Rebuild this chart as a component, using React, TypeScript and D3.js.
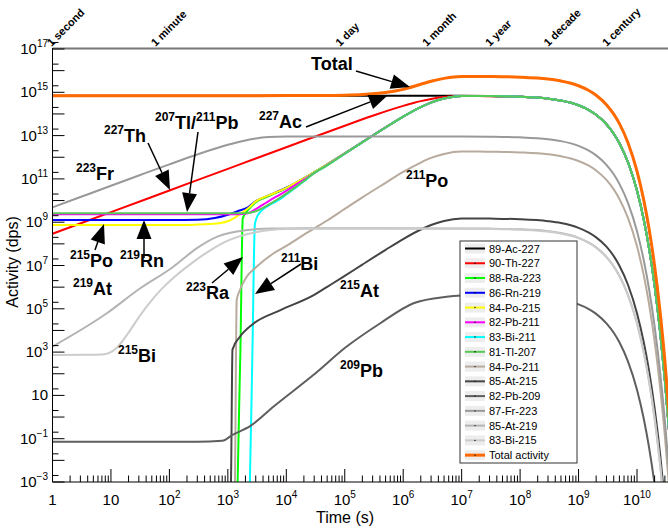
import React from "react";
import * as d3 from "d3";

type P = [number, number];

// ---------- data (time in s, activity in dps) ----------
const ac227: P[] = [[1,6.9e14],[1e6,6.9e14],[1e7,6.87e14],[3e7,6.69e14],[1e8,6.24e14],[3e8,5.1e14],[5e8,4.17e14],[1e9,2.52e14],[1.5e9,1.52e14],[2e9,9.2e13],[3e9,3.34e13],[4e9,1.22e13],[5e9,4.45e12],[7e9,5.9e11],[1e10,2.88e10],[1.3e10,1.38e9],[1.6e10,6.7e7],[2e10,1.2e6],[2.5e10,7.6e3],[3e10,49],[3.5e10,0.32],[4e10,2.1e-3]];
const th227: P[] = [[1,2.92e8],[10,2.92e9],[100,2.92e10],[1e3,2.92e11],[1e4,2.91e12],[1e5,2.86e13],[3e5,8.2e13],[5e5,1.31e14],[7e5,1.76e14],[1e6,2.37e14],[1.5e6,3.23e14],[2e6,3.92e14],[3e6,4.93e14],[5e6,6.0e14],[1e7,6.68e14],[2e7,6.7e14],[3e7,6.62e14],[1e8,6.18e14],[3e8,5.05e14],[5e8,4.13e14],[1e9,2.5e14],[1.5e9,1.5e14],[2e9,9.1e13],[3e9,3.3e13],[4e9,1.2e13],[5e9,4.4e12],[7e9,5.8e11],[1e10,2.85e10],[1.3e10,1.36e9],[1.6e10,6.6e7],[2e10,1.19e6],[2.5e10,7.5e3],[3e10,48],[3.5e10,0.31],[4e10,2e-3]];
const ra223: P[] = [[1.46e3,3e-4],[1.47e3,1e-3],[1.64e3,1.2e3],[1.8e3,1.5e9],[2.2e3,3.6e9],[3e3,8.3e9],[5e3,1.6e10],[1e4,3.8e10],[2e4,1.07e11],[5e4,4.7e11],[1e5,1.5e12],[2e5,5.0e12],[5e5,2.4e13],[1e6,7.6e13],[2e6,2.08e14],[3e6,3.38e14],[5e6,5.17e14],[1e7,6.7e14],[2e7,6.76e14],[3e7,6.69e14],[1e8,6.24e14],[3e8,5.1e14],[5e8,4.17e14],[1e9,2.52e14],[1.5e9,1.52e14],[2e9,9.2e13],[3e9,3.34e13],[4e9,1.22e13],[5e9,4.45e12],[7e9,5.9e11],[1e10,2.88e10],[1.3e10,1.38e9],[1.6e10,6.7e7],[2e10,1.2e6],[2.5e10,7.6e3],[3e10,49],[3.5e10,0.32],[4e10,2.1e-3]];
const rn219: P[] = [[1,1.26e9],[100,1.26e9],[300,1.3e9],[600,1.55e9],[1e3,2.2e9],[1.5e3,3.3e9],[2.2e3,4.9e9],[3e3,9.4e9],[5e3,1.72e10],[1e4,3.9e10],[2e4,1.07e11],[5e4,4.7e11],[1e5,1.5e12],[2e5,5.0e12],[5e5,2.4e13],[1e6,7.6e13],[2e6,2.08e14],[3e6,3.38e14],[5e6,5.17e14],[1e7,6.7e14],[2e7,6.76e14],[3e7,6.69e14],[1e8,6.24e14],[3e8,5.1e14],[5e8,4.17e14],[1e9,2.52e14],[1.5e9,1.52e14],[2e9,9.2e13],[3e9,3.34e13],[4e9,1.22e13],[5e9,4.45e12],[7e9,5.9e11],[1e10,2.88e10],[1.3e10,1.38e9],[1.6e10,6.7e7],[2e10,1.2e6],[2.5e10,7.6e3],[3e10,49],[3.5e10,0.32],[4e10,2.1e-3]];
const po215: P[] = [[1,7.4e8],[200,7.4e8],[400,8.0e8],[700,9e8],[1e3,1.1e9],[1.3e3,1.6e9],[1.7e3,2.6e9],[2.2e3,4.3e9],[3e3,9.2e9],[5e3,1.72e10],[1e4,3.85e10],[2e4,1.07e11],[5e4,4.7e11],[1e5,1.5e12],[2e5,5.0e12],[5e5,2.4e13],[1e6,7.6e13],[2e6,2.08e14],[3e6,3.38e14],[5e6,5.17e14],[1e7,6.7e14],[2e7,6.76e14],[3e7,6.69e14],[1e8,6.24e14],[3e8,5.1e14],[5e8,4.17e14],[1e9,2.52e14],[1.5e9,1.52e14],[2e9,9.2e13],[3e9,3.34e13],[4e9,1.22e13],[5e9,4.45e12],[7e9,5.9e11],[1e10,2.88e10],[1.3e10,1.38e9],[1.6e10,6.7e7],[2e10,1.2e6],[2.5e10,7.6e3],[3e10,49],[3.5e10,0.32],[4e10,2.1e-3]];
const pb211: P[] = [[1,2.35e9],[1.5e3,2.35e9],[2e3,2.45e9],[2.5e3,3.0e9],[3e3,4.0e9],[4e3,6.5e9],[5e3,9.5e9],[7.8e3,1.9e10],[1e4,2.8e10],[2e4,9.4e10],[5e4,4.4e11],[1e5,1.47e12],[2e5,4.95e12],[5e5,2.38e13],[1e6,7.55e13],[2e6,2.07e14],[3e6,3.37e14],[5e6,5.16e14],[1e7,6.7e14],[2e7,6.76e14],[3e7,6.69e14],[1e8,6.24e14],[3e8,5.1e14],[5e8,4.17e14],[1e9,2.52e14],[1.5e9,1.52e14],[2e9,9.2e13],[3e9,3.34e13],[4e9,1.22e13],[5e9,4.45e12],[7e9,5.9e11],[1e10,2.88e10],[1.3e10,1.38e9],[1.6e10,6.7e7],[2e10,1.2e6],[2.5e10,7.6e3],[3e10,49],[3.5e10,0.32],[4e10,2.1e-3]];
const bi211: P[] = [[2.34e3,3e-4],[2.38e3,1e-3],[2.63e3,9e2],[2.9e3,8e8],[3.2e3,1.9e9],[3.6e3,3e9],[4.5e3,5e9],[6e3,7.7e9],[8e3,1.22e10],[1e4,1.9e10],[1.5e4,4.3e10],[2e4,7.8e10],[2.86e4,1.68e11],[5e4,4.2e11],[1e5,1.45e12],[2e5,4.9e12],[5e5,2.37e13],[1e6,7.5e13],[2e6,2.06e14],[3e6,3.35e14],[5e6,5.14e14],[1e7,6.68e14],[2e7,6.76e14],[3e7,6.69e14],[1e8,6.24e14],[3e8,5.1e14],[5e8,4.17e14],[1e9,2.52e14],[1.5e9,1.52e14],[2e9,9.2e13],[3e9,3.34e13],[4e9,1.22e13],[5e9,4.45e12],[7e9,5.9e11],[1e10,2.88e10],[1.3e10,1.38e9],[1.6e10,6.7e7],[2e10,1.2e6],[2.5e10,7.6e3],[3e10,49],[3.5e10,0.32],[4e10,2.1e-3]];
const tl207: P[] = [[1,2.6e9],[2e3,2.6e9],[3e3,3.2e9],[4e3,4.6e9],[5e3,6.5e9],[7.8e3,1.35e10],[1e4,2.1e10],[1.5e4,4.5e10],[2e4,8e10],[2.86e4,1.7e11],[5e4,4.2e11],[1e5,1.45e12],[2e5,4.9e12],[5e5,2.37e13],[1e6,7.5e13],[2e6,2.06e14],[3e6,3.35e14],[5e6,5.14e14],[1e7,6.68e14],[2e7,6.76e14],[3e7,6.69e14],[1e8,6.24e14],[3e8,5.1e14],[5e8,4.17e14],[1e9,2.52e14],[1.5e9,1.52e14],[2e9,9.2e13],[3e9,3.34e13],[4e9,1.22e13],[5e9,4.45e12],[7e9,5.9e11],[1e10,2.88e10],[1.3e10,1.38e9],[1.6e10,6.7e7],[2e10,1.2e6],[2.5e10,7.6e3],[3e10,49],[3.5e10,0.32],[4e10,2.1e-3]];
const po211: P[] = [[1.3e3,3e-4],[1.325e3,1e-3],[1.37e3,1e2],[1.417e3,2.6e5],[1.61e3,7.4e5],[2.1e3,3e6],[3e3,8e6],[6e3,3.6e7],[1e4,8e7],[2.2e4,3.1e8],[5e4,1.2e9],[1e5,4.1e9],[2e5,1.4e10],[5e5,6.6e10],[1e6,2.1e11],[2e6,5.7e11],[3e6,9.3e11],[5e6,1.42e12],[1e7,1.82e12],[2e7,1.83e12],[3e7,1.8e12],[1e8,1.67e12],[3e8,1.37e12],[5e8,1.12e12],[1e9,6.75e11],[1.5e9,4.07e11],[2e9,2.46e11],[3e9,8.95e10],[4e9,3.27e10],[5e9,1.19e10],[7e9,1.57e9],[1e10,7.7e7],[1.3e10,3.7e6],[1.6e10,1.8e5],[2e10,3.2e3],[2.5e10,20],[3e10,0.13],[3.5e10,8.5e-4]];
const at215: P[] = [[1.1e3,3e-4],[1.13e3,1e-3],[1.2e3,1.3e3],[1.6e3,5e3],[2.7e3,2e4],[7.8e3,8.5e4],[3e4,4.4e5],[5e4,1.03e6],[1e5,3.3e6],[2e5,1.1e7],[5e5,5.3e7],[1e6,1.67e8],[2e6,4.6e8],[3e6,7.4e8],[5e6,1.14e9],[1e7,1.47e9],[2e7,1.49e9],[3e7,1.47e9],[1e8,1.37e9],[3e8,1.12e9],[5e8,9.2e8],[1e9,5.5e8],[1.5e9,3.3e8],[2e9,2.0e8],[3e9,7.4e7],[4e9,2.7e7],[5e9,9.8e6],[7e9,1.29e6],[1e10,6.3e4],[1.3e10,3.0e3],[1.6e10,147],[2e10,2.6],[2.5e10,1.7e-2],[3e10,1.1e-4]];
const pb209: P[] = [[1,0.072],[300,0.072],[800,0.08],[1.2e3,0.15],[2.4e3,0.38],[6e3,3.0],[2.9e4,87],[1.08e5,1.8e3],[4e5,2.1e4],[1.5e6,1.8e5],[5.5e6,3.6e5],[1e7,4.1e5],[2e7,4.3e5],[3e7,4.27e5],[1e8,3.98e5],[3e8,3.25e5],[5e8,2.66e5],[1e9,1.6e5],[1.5e9,9.7e4],[2e9,5.85e4],[3e9,2.13e4],[4e9,7.8e3],[5e9,2.84e3],[7e9,374],[1e10,18.3],[1.3e10,0.88],[1.6e10,0.043],[2e10,7.7e-4],[2.5e10,4.8e-6]];
const fr223: P[] = [[1,4.83e9],[3,1.45e10],[10,4.83e10],[30,1.44e11],[100,4.71e11],[300,1.34e12],[1e3,3.76e12],[2e3,5.98e12],[3e3,7.3e12],[5e3,8.53e12],[1e4,9.15e12],[3e4,9.2e12],[1e7,9.1e12],[3e7,8.92e12],[1e8,8.3e12],[3e8,6.8e12],[5e8,5.56e12],[1e9,3.36e12],[1.5e9,2.02e12],[2e9,1.22e12],[3e9,4.45e11],[4e9,1.63e11],[5e9,5.9e10],[7e9,7.8e9],[1e10,3.84e8],[1.3e10,1.84e7],[1.6e10,8.9e5],[2e10,1.6e4],[2.5e10,101],[3e10,0.65],[3.5e10,4.2e-3],[4e10,2.8e-5]];
const at219: P[] = [[1,1.8e3],[8.5,6.2e4],[30,8e5],[117,8.8e6],[300,6.5e7],[645,2.1e8],[2e3,4.3e8],[6e3,5.1e8],[2e4,5.2e8],[1e7,5.15e8],[3e7,5.05e8],[1e8,4.7e8],[3e8,3.84e8],[5e8,3.14e8],[1e9,1.9e8],[1.5e9,1.14e8],[2e9,6.9e7],[3e9,2.5e7],[4e9,9.2e6],[5e9,3.35e6],[7e9,4.4e5],[1e10,2.17e4],[1.3e10,1.04e3],[1.6e10,50],[2e10,0.9],[2.5e10,5.7e-3],[3e10,3.7e-5]];
const bi215: P[] = [[1,7.4e2],[4,7.5e2],[7,7.7e2],[12.6,1.6e3],[20,8e3],[31.6,5e4],[50,2.5e5],[79,1e6],[126,3.2e6],[251,1.4e7],[500,5e7],[1e3,1.4e8],[3.16e3,3.5e8],[1e4,4.8e8],[3e4,5e8],[1e7,4.95e8],[3e7,4.85e8],[1e8,4.5e8],[3e8,3.7e8],[5e8,3.0e8],[1e9,1.83e8],[1.5e9,1.1e8],[2e9,6.65e7],[3e9,2.42e7],[4e9,8.8e6],[5e9,3.2e6],[7e9,4.25e5],[1e10,2.1e4],[1.3e10,1.0e3],[1.6e10,48],[2e10,0.87],[2.5e10,5.5e-3],[3e10,3.5e-5]];
const total: P[] = [[1,6.9e14],[1e3,6.94e14],[1e4,7.03e14],[3e4,7.1e14],[1e5,7.37e14],[2e5,7.85e14],[5e5,9.75e14],[1e6,1.36e15],[2e6,2.34e15],[3e6,3.22e15],[5e6,4.4e15],[1e7,5.39e15],[2e7,5.41e15],[3e7,5.35e15],[1e8,4.99e15],[3e8,4.08e15],[5e8,3.33e15],[1e9,2.01e15],[1.5e9,1.21e15],[2e9,7.34e14],[3e9,2.67e14],[4e9,9.75e13],[5e9,3.56e13],[7e9,4.7e12],[1e10,2.3e11],[1.3e10,1.1e10],[1.6e10,5.35e8],[2e10,9.6e6],[2.5e10,6.1e4],[3e10,392],[3.5e10,2.5],[4e10,0.017]];

const seriesNames = ["89-Ac-227","90-Th-227","88-Ra-223","86-Rn-219","84-Po-215","82-Pb-211","83-Bi-211","81-Tl-207","84-Po-211","85-At-215","82-Pb-209","87-Fr-223","85-At-219","83-Bi-215","Total activity"];
const seriesData = [ac227, th227, ra223, rn219, po215, pb211, bi211, tl207, po211, at215, pb209, fr223, at219, bi215, total];
const seriesColors = ["#000000","#ff0000","#00ff00","#0000ff","#ffff00","#ff00ff","#00ffff","#55c855","#b8ab9e","#444444","#5e5e5e","#999999","#b4b4b4","#cccccc","#ff6a00"];

const xTickExps = [0,1,2,3,4,5,6,7,8,9,10];
const yTickExps = [17,15,13,11,9,7,5,3,1,-1,-3];
const timeLabels = ["1 second","1 minute","1 day","1 month","1 year","1 decade","1 century"];
const timeValues = [1, 60, 86400, 2.63e6, 3.156e7, 3.156e8, 3.156e9];

const annotations: { parts: [string, string][]; x: number; y: number }[] = [
  { parts: [["", "Total"]], x: 311, y: 70 },
  { parts: [["227", "Ac"]], x: 259, y: 128 },
  { parts: [["227", "Th"]], x: 104, y: 142 },
  { parts: [["207", "Tl/"], ["211", "Pb"]], x: 155, y: 129 },
  { parts: [["223", "Fr"]], x: 76, y: 180 },
  { parts: [["215", "Po"]], x: 70, y: 267 },
  { parts: [["219", "Rn"]], x: 120, y: 267 },
  { parts: [["219", "At"]], x: 73, y: 295 },
  { parts: [["215", "Bi"]], x: 118, y: 362 },
  { parts: [["223", "Ra"]], x: 186, y: 299 },
  { parts: [["211", "Bi"]], x: 281, y: 270 },
  { parts: [["215", "At"]], x: 340, y: 297 },
  { parts: [["209", "Pb"]], x: 340, y: 377 },
  { parts: [["211", "Po"]], x: 406, y: 187 },
];
const arrows: [number, number, number, number][] = [
  [356, 71, 410, 87],
  [306, 127, 388, 95],
  [148, 143, 170, 190],
  [198, 132, 187, 212],
  [95, 250, 104, 224],
  [144, 258, 144, 220],
  [212, 283, 243, 257],
  [301, 264, 255, 294],
];

const W = 668, H = 531;
const X0 = 52.5, DEC = 58.45;
const YT = 49, YB = 482;
const FONT = "Liberation Sans, Arial, Helvetica, sans-serif";

export default function App() {
  const x = d3.scaleLog().domain([1, 1e11]).range([X0, X0 + 11 * DEC]);
  const y = d3.scaleLog().domain([1e-3, 1e17]).range([YB, YT]);
  const line = d3
    .line<P>()
    .x((d) => x(d[0]))
    .y((d) => y(Math.max(d[1], 1e-8)))
    .curve(d3.curveMonotoneX);

  const minorX: number[] = [];
  for (let e = 0; e < 11; e++) for (let k = 2; k <= 9; k++) {
    const v = k * Math.pow(10, e);
    if (x(v) < W) minorX.push(v);
  }
  const yDecades = d3.range(-3, 18);

  const sup = (base: string, exp: string) => (
    <>
      {base}
      <tspan dy={-7} fontSize={10}>{exp}</tspan>
    </>
  );

  const legX = 460, legY = 241, legW = 117, legH = 222;
  const rowH = 14.76;

  return (
    <svg width={W} height={H} style={{ position: "absolute", left: 0, top: 0, background: "#fff" }} fontFamily={FONT}>
      <defs>
        <clipPath id="plot">
          <rect x={X0} y={YT} width={W - X0} height={YB - YT} />
        </clipPath>
      </defs>
      <rect x={0} y={0} width={W} height={H} fill="#fff" />

      {/* curves */}
      <g clipPath="url(#plot)">
        {seriesData.map((d, i) => (
          <path key={i} d={line(d) || ""} fill="none" stroke={seriesColors[i]}
            strokeWidth={i === 14 ? 3 : 2} strokeLinejoin="round" />
        ))}
      </g>

      {/* frame / axes */}
      <line x1={X0} x2={W} y1={YT - 0.5} y2={YT - 0.5} stroke="#777" strokeWidth={2} />
      <line x1={X0} x2={X0} y1={YT - 1} y2={YB} stroke="#000" strokeWidth={1} />
      <line x1={X0} x2={W} y1={YB} y2={YB} stroke="#000" strokeWidth={1} />

      {/* x ticks */}
      {xTickExps.map((e) => (
        <line key={"xt" + e} x1={x(Math.pow(10, e))} x2={x(Math.pow(10, e))} y1={YB} y2={YB - 13} stroke="#000" />
      ))}
      {minorX.map((v, i) => (
        <line key={"xm" + i} x1={x(v)} x2={x(v)} y1={YB} y2={YB - 6.5} stroke="#000" />
      ))}
      {xTickExps.map((e) => (
        <text key={"xl" + e} x={x(Math.pow(10, e))} y={505} fontSize={15} textAnchor="middle">
          {e === 0 ? "1" : e === 1 ? "10" : sup("10", String(e))}
        </text>
      ))}
      <text x={345} y={523} fontSize={16} textAnchor="middle">Time (s)</text>

      {/* y ticks */}
      {yDecades.map((e) => (
        <line key={"yt" + e} x1={X0} x2={X0 + 12} y1={y(Math.pow(10, e))} y2={y(Math.pow(10, e))} stroke="#000" />
      ))}
      {yDecades.map((e) => (
        <line key={"ym" + e} x1={X0} x2={X0 + 6} y1={y(2 * Math.pow(10, e))} y2={y(2 * Math.pow(10, e))} stroke="#000" />
      ))}
      {yTickExps.map((e) => (
        <text key={"yl" + e} x={48} y={y(Math.pow(10, e)) + 5} fontSize={15} textAnchor="end">
          {e === 1 ? "10" : sup("10", e < 0 ? "\u2212" + String(-e) : String(e))}
        </text>
      ))}
      <text transform="translate(18,262) rotate(-90)" fontSize={16} textAnchor="middle">Activity (dps)</text>

      {/* top time labels */}
      {timeLabels.map((t, i) => (
        <text key={t} transform={`translate(${x(timeValues[i]) - 1},${YT - 2}) rotate(-45)`} fontSize={11} fontWeight="bold">
          {t}
        </text>
      ))}

      {/* annotations */}
      {annotations.map((a, i) => (
        <text key={"an" + i} x={a.x} y={a.y} fontWeight="bold" fontSize={18}>
          {a.parts.map(([s, t], j) => (
            <React.Fragment key={j}>
              {s ? <tspan fontSize={12} dy={-8}>{s}</tspan> : null}
              <tspan dy={s ? 8 : 0}>{t}</tspan>
            </React.Fragment>
          ))}
        </text>
      ))}
      {arrows.map(([x1, y1, x2, y2], i) => {
        const ang = Math.atan2(y2 - y1, x2 - x1);
        const L = 19, hw = 7.5;
        const bx = x2 - L * Math.cos(ang), by = y2 - L * Math.sin(ang);
        const px = -Math.sin(ang) * hw, py = Math.cos(ang) * hw;
        return (
          <g key={"ar" + i}>
            <line x1={x1} y1={y1} x2={bx} y2={by} stroke="#000" strokeWidth={1.5} />
            <polygon points={`${x2},${y2} ${bx + px},${by + py} ${bx - px},${by - py}`} fill="#000" />
          </g>
        );
      })}

      {/* legend */}
      <rect x={legX} y={legY} width={legW} height={legH} fill="#fff" stroke="#333" strokeWidth={1} />
      {seriesNames.map((n, i) => {
        const cy = legY + 7.5 + i * rowH;
        return (
          <g key={"lg" + i}>
            <rect x={465} y={cy - 5} width={20} height={10} fill="#ededed" />
            <line x1={465} x2={485} y1={cy} y2={cy} stroke={seriesColors[i]} strokeWidth={i === 14 ? 3 : 2} />
            <circle cx={475} cy={cy} r={0.7} fill="#000" />
            <text x={489} y={cy + 4} fontSize={11}>{n}</text>
          </g>
        );
      })}
    </svg>
  );
}
